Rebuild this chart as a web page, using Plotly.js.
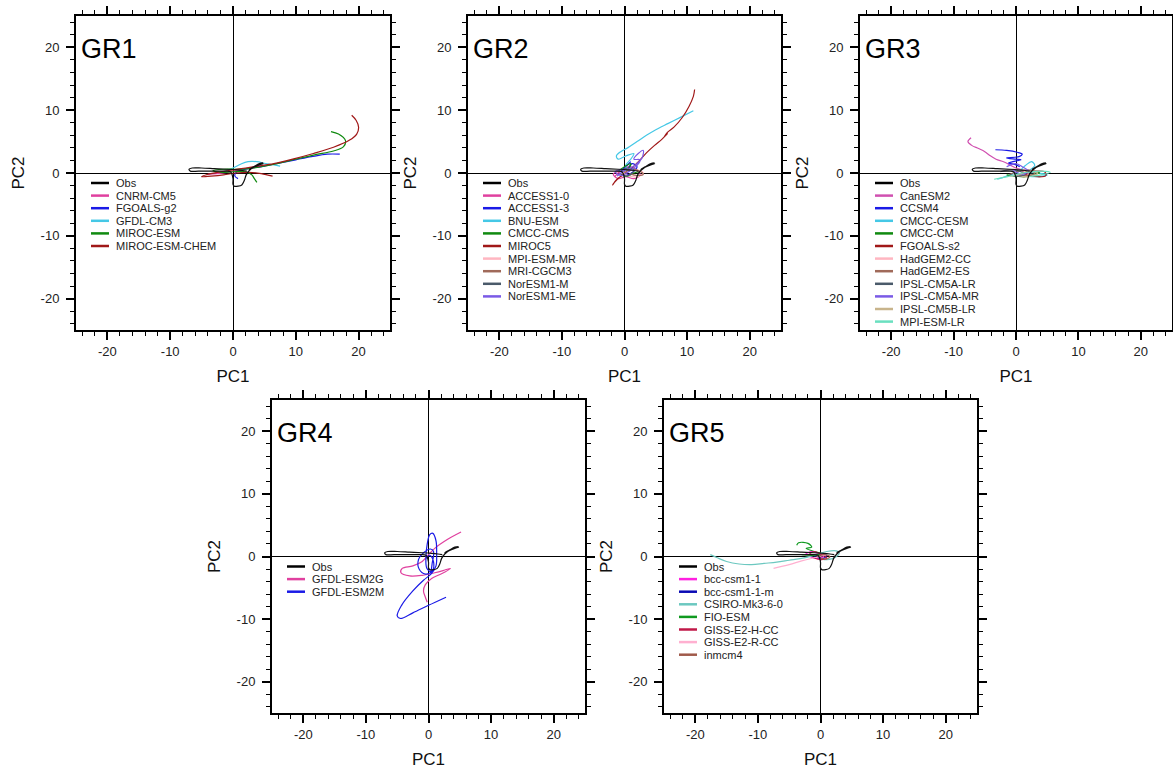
<!DOCTYPE html>
<html>
<head>
<meta charset="utf-8">
<script src="https://cdn.plot.ly/plotly-3.0.1.min.js"></script>
<style>html,body{margin:0;padding:0;background:#fff;}#chart{width:1173px;height:772px;}</style>
</head>
<body>
<div id="chart"></div>
<script>
// ---------------- DATA ----------------
const panelLabels = ["GR1", "GR2", "GR3", "GR4", "GR5"];
const tickVals = [-20, -10, 0, 10, 20];
const tickText = ["-20", "-10", "0", "10", "20"];

// Observations (same in every panel)
const obsPC1 = [4.8, 4.2, 3.3, 2.6, 3.2, 4.2, 4.8, 3.8, 2.6, 2.1, 1.8, 1.4, 0.8, 0.2, 0.0, 0.0, -0.4, -1.5, -3.5, -5.5, -6.8, -7.0, -6.5, -5.0, -3.0, -1.0, 0.5, 1.5, 2.2];
const obsPC2 = [1.6, 1.5, 1.0, 0.6, 0.9, 1.3, 1.5, 1.2, 0.4, -0.3, -1.2, -1.9, -2.1, -2.1, -1.8, -0.9, 0.2, 0.3, 0.3, 0.3, 0.3, 0.6, 0.8, 0.8, 0.7, 0.6, 0.5, 0.4, 0.3];

// GR1
const gr1Names = ["CNRM-CM5", "FGOALS-g2", "GFDL-CM3", "MIROC-ESM", "MIROC-ESM-CHEM"];
const gr1_CNRM_CM5_pc1 = [-4.0, -2.5, -1.0, 0.5, 2.0, 3.5, 5.0];
const gr1_CNRM_CM5_pc2 = [-0.2, -0.1, 0.1, 0.4, 0.7, 0.9, 1.1];
const gr1_FGOALS_g2_pc1 = [17.0, 15.0, 12.5, 10.0, 7.5, 5.0, 3.0, 1.5, 0.5, 0.3, 0.8];
const gr1_FGOALS_g2_pc2 = [3.0, 3.0, 2.6, 2.1, 1.6, 1.1, 0.8, 0.5, 0.1, -0.5, -0.9];
const gr1_GFDL_CM3_pc1 = [-1.5, 0.0, 1.2, 2.4, 3.8, 5.2, 6.5, 7.5];
const gr1_GFDL_CM3_pc2 = [0.2, 0.8, 1.4, 1.8, 1.8, 1.5, 1.3, 1.1];
const gr1_MIROC_ESM_pc1 = [15.6, 16.8, 17.9, 17.6, 16.0, 13.0, 10.0, 7.0, 4.5, 2.5, 0.5, -1.5, -3.2, -2.0, 0.0, 2.0, 3.0, 3.4, 3.8];
const gr1_MIROC_ESM_pc2 = [6.6, 6.2, 5.2, 4.2, 3.5, 2.9, 2.2, 1.5, 1.0, 0.7, 0.6, 0.6, 0.4, 0.1, 0.2, 0.2, -0.3, -0.9, -1.5];
const gr1_MIROC_ESM_CHEM_pc1 = [6.3, 4.5, 2.5, 0.5, -1.5, -3.5, -5.0, -4.0, -2.0, 0.0, 2.0, 4.0, 6.5, 9.5, 12.8, 16.0, 18.5, 19.7, 20.0, 19.6, 18.9];
const gr1_MIROC_ESM_CHEM_pc2 = [-0.5, -0.1, 0.1, 0.0, -0.3, -0.5, -0.6, -0.2, 0.2, 0.5, 0.8, 1.1, 1.5, 2.2, 3.1, 4.1, 5.2, 6.2, 7.3, 8.4, 9.2];

// GR2
const gr2Names = ["ACCESS1-0", "ACCESS1-3", "BNU-ESM", "CMCC-CMS", "MIROC5", "MPI-ESM-MR", "MRI-CGCM3", "NorESM1-M", "NorESM1-ME"];
const gr2_ACCESS1_0_pc1 = [-1.5, -0.5, 0.8, 1.8, 2.5, 1.5, 0.2, -1.0, -1.8, -0.8, 0.5];
const gr2_ACCESS1_0_pc2 = [-0.5, 0.4, 1.0, 0.6, -0.3, -0.9, -0.6, -0.9, -0.2, 0.3, 0.0];
const gr2_ACCESS1_3_pc1 = [0.5, 1.2, 2.0, 1.4, 0.3, -0.5, 0.2, 1.0];
const gr2_ACCESS1_3_pc2 = [0.5, 1.5, 1.0, 0.2, -0.3, 0.3, 1.0, 1.8];
const gr2_BNU_ESM_pc1 = [11.0, 9.0, 7.0, 5.0, 3.5, 2.0, 0.5, -0.6, -1.3, -1.0, 0.2, 1.5, 1.0, 0.2, 0.5];
const gr2_BNU_ESM_pc2 = [9.9, 8.9, 7.9, 6.9, 6.0, 5.0, 4.0, 3.4, 2.7, 2.2, 2.7, 3.1, 2.2, 1.2, 0.4];
const gr2_CMCC_CMS_pc1 = [-1.0, 0.0, 1.0, 0.5, -0.3, 0.5, 1.5, 2.5];
const gr2_CMCC_CMS_pc2 = [0.3, 1.0, 1.5, 0.5, -0.2, -0.5, 0.0, 0.2];
const gr2_MIROC5_pc1 = [11.2, 11.0, 10.3, 9.2, 7.9, 6.9, 6.3, 6.9, 6.0, 4.8, 3.5, 2.3, 1.3, 0.3, -0.8, -1.6, -1.9, -1.2, 0.0];
const gr2_MIROC5_pc2 = [13.3, 12.2, 10.6, 8.8, 7.3, 6.5, 5.7, 6.3, 5.4, 4.4, 3.2, 1.9, 0.9, 0.2, -0.7, -1.5, -1.9, -1.0, -0.2];
const gr2_MPI_ESM_MR_pc1 = [-1.0, 0.5, 2.0, 3.0, 2.0, 0.5, -0.5];
const gr2_MPI_ESM_MR_pc2 = [-0.3, 0.3, 0.5, 0.0, -0.6, -0.4, 0.2];
const gr2_MRI_CGCM3_pc1 = [0.0, 1.0, 2.2, 3.0, 2.0, 0.8];
const gr2_MRI_CGCM3_pc2 = [0.0, 0.6, 0.4, -0.2, -0.4, -0.1];
const gr2_NorESM1_M_pc1 = [-0.5, 0.5, 1.5, 1.0, 0.0, -0.8];
const gr2_NorESM1_M_pc2 = [0.2, 0.8, 0.5, -0.2, -0.5, 0.0];
const gr2_NorESM1_ME_pc1 = [-1.2, -0.3, 1.0, 2.0, 2.8, 3.0, 2.2, 1.5, 2.5, 2.0, 0.8, -0.5, -1.5, -0.5];
const gr2_NorESM1_ME_pc2 = [-0.5, 0.2, 0.8, 1.5, 2.4, 3.6, 3.1, 2.2, 2.1, 1.2, 0.3, -0.4, 0.2, 0.6];

// GR3
const gr3Names = ["CanESM2", "CCSM4", "CMCC-CESM", "CMCC-CM", "FGOALS-s2", "HadGEM2-CC", "HadGEM2-ES", "IPSL-CM5A-LR", "IPSL-CM5A-MR", "IPSL-CM5B-LR", "MPI-ESM-LR"];
const gr3_CanESM2_pc1 = [-7.2, -7.7, -7.1, -6.0, -5.0, -4.2, -3.2, -2.0, -1.0, 0.0, 1.0];
const gr3_CanESM2_pc2 = [5.6, 5.0, 4.4, 3.9, 3.4, 2.8, 2.2, 1.8, 1.3, 0.8, 0.5];
const gr3_CCSM4_pc1 = [-3.3, -1.5, 0.2, 1.0, 0.5, -1.5, 0.0, 0.8, -0.5, -1.2, 0.0, 0.6];
const gr3_CCSM4_pc2 = [3.7, 3.6, 3.3, 3.0, 2.6, 2.4, 2.2, 2.1, 1.8, 1.6, 1.3, 1.0];
const gr3_CMCC_CESM_pc1 = [-3.0, -1.5, 0.5, 1.5, 2.5, 3.0, 2.0, 3.5, 5.0, 3.0, 1.0];
const gr3_CMCC_CESM_pc2 = [-1.0, -0.5, 0.3, 1.2, 1.8, 1.2, 0.2, 0.0, -0.3, -0.6, -0.3];
const gr3_CMCC_CM_pc1 = [-1.5, 0.0, 1.5, 3.0, 3.8, 2.5, 1.0, 0.0];
const gr3_CMCC_CM_pc2 = [-0.3, -0.5, -0.6, -0.2, 0.0, 0.3, 0.0, -0.5];
const gr3_FGOALS_s2_pc1 = [1.0, 3.0, 4.6, 4.8, 3.5, 2.0, 1.0];
const gr3_FGOALS_s2_pc2 = [0.2, 0.3, 0.2, -0.4, -0.6, -0.3, 0.0];
const gr3_HadGEM2_CC_pc1 = [-2.0, -0.5, 1.0, 2.0, 1.0, -0.5];
const gr3_HadGEM2_CC_pc2 = [0.3, 0.6, 0.4, -0.2, -0.5, -0.2];
const gr3_HadGEM2_ES_pc1 = [-1.0, 0.5, 2.0, 3.0, 2.0, 0.5];
const gr3_HadGEM2_ES_pc2 = [-0.2, 0.3, 0.5, 0.0, -0.4, -0.3];
const gr3_IPSL_CM5A_LR_pc1 = [-2.5, -1.0, 0.5, 1.5, 0.5, -1.0];
const gr3_IPSL_CM5A_LR_pc2 = [0.2, 0.5, 0.3, -0.2, -0.5, -0.3];
const gr3_IPSL_CM5A_MR_pc1 = [-1.5, 0.0, 1.0, 2.0, 1.0, -0.5];
const gr3_IPSL_CM5A_MR_pc2 = [1.0, 1.5, 1.0, 0.3, -0.2, 0.4];
const gr3_IPSL_CM5B_LR_pc1 = [-1.0, 0.5, 2.0, 3.5, 2.5, 1.0];
const gr3_IPSL_CM5B_LR_pc2 = [-0.5, -0.2, 0.2, 0.0, -0.5, -0.6];
const gr3_MPI_ESM_LR_pc1 = [-3.5, -2.0, -0.5, 1.0, 2.5, 4.0, 5.5, 4.0, 2.0];
const gr3_MPI_ESM_LR_pc2 = [-1.0, -0.7, -0.4, 0.0, 0.2, 0.3, 0.1, -0.3, -0.6];

// GR4
const gr4Names = ["GFDL-ESM2G", "GFDL-ESM2M"];
const gr4_GFDL_ESM2G_pc1 = [5.2, 3.0, 1.0, 0.0, -1.0, -2.5, -4.2, -4.4, -3.0, -1.0, 1.0, 2.5, 3.5, 2.0, 0.5, -0.5, -0.8, -0.5, -0.2];
const gr4_GFDL_ESM2G_pc2 = [3.9, 2.7, 1.3, 0.3, -0.8, -1.5, -1.9, -2.6, -3.1, -3.0, -2.6, -2.2, -1.9, -2.8, -3.5, -4.5, -5.5, -6.5, -7.3];
const gr4_GFDL_ESM2M_pc1 = [2.8, 0.0, -2.5, -4.5, -5.0, -4.3, -2.5, -0.8, 0.5, 1.2, 1.3, 1.2, 0.7, 0.2, -0.2, -0.4, -0.3, 0.3, 0.6, 0.8, 0.3, -0.8, -1.6, -1.5, -0.5, 0.6, 0.8, 0.2, -0.5];
const gr4_GFDL_ESM2M_pc2 = [-6.5, -7.8, -9.0, -9.9, -9.5, -7.8, -5.5, -3.8, -2.7, -1.5, 0.5, 2.5, 3.7, 3.5, 2.0, 0.0, -1.8, -2.4, -1.0, 0.8, 1.2, 0.6, -0.5, -2.0, -2.8, -2.3, -0.8, 0.2, -0.5];

// GR5
const gr5Names = ["bcc-csm1-1", "bcc-csm1-1-m", "CSIRO-Mk3-6-0", "FIO-ESM", "GISS-E2-H-CC", "GISS-E2-R-CC", "inmcm4"];
const gr5_bcc_csm1_1_pc1 = [-2.5, -1.5, -0.5, 0.5, -0.5, -1.8];
const gr5_bcc_csm1_1_pc2 = [0.3, 0.8, 0.5, 0.0, -0.3, 0.0];
const gr5_bcc_csm1_1_m_pc1 = [-1.0, 0.0, 1.0, 0.5, -0.5];
const gr5_bcc_csm1_1_m_pc2 = [0.0, 0.4, 0.2, -0.3, -0.2];
const gr5_CSIRO_pc1 = [-17.6, -16.5, -15.0, -13.0, -11.0, -9.0, -7.0, -5.0, -3.0, -1.0, 1.0, 2.5, 3.0, 2.0, 0.5];
const gr5_CSIRO_pc2 = [0.3, -0.2, -0.8, -1.2, -1.3, -1.1, -0.9, -0.6, -0.3, 0.2, 0.8, 0.9, 0.5, -0.3, -0.5];
const gr5_FIO_ESM_pc1 = [-3.8, -3.5, -2.0, -1.4, -2.3, -1.0, 0.0, -1.0, -3.0];
const gr5_FIO_ESM_pc2 = [1.8, 2.2, 2.1, 1.5, 1.3, 0.8, 0.5, 0.2, 0.3];
const gr5_GISS_H_pc1 = [-2.0, -1.0, 0.0, 1.0, 0.2, -1.2];
const gr5_GISS_H_pc2 = [0.2, 0.8, 0.4, -0.2, -0.5, -0.2];
const gr5_GISS_R_pc1 = [-7.5, -5.0, -3.0, -1.0, 1.0];
const gr5_GISS_R_pc2 = [-1.9, -1.3, -0.7, -0.2, 0.3];
const gr5_inmcm4_pc1 = [-0.5, 0.5, 1.5, 1.0, 0.0];
const gr5_inmcm4_pc2 = [0.0, 0.3, 0.0, -0.4, -0.3];

// ---------------- STYLE ----------------
const gr1Colors = ["#e0409f", "#1a1ae6", "#45c8e6", "#108a10", "#a01818"];
const gr2Colors = ["#e0409f", "#1a1ae6", "#45c8e6", "#108a10", "#a01818", "#ffb6c1", "#a06a5a", "#4a5a6a", "#7a5ae6"];
const gr3Colors = ["#d050b0", "#1a1ae6", "#45c8e6", "#108a10", "#a01818", "#ffb6c1", "#a06a5a", "#4a5a6a", "#7a5ae6", "#c8b48c", "#6ae0c0"];
const gr4Colors = ["#e0409f", "#1a1ae6"];
const gr5Colors = ["#ff20e0", "#0a0ab4", "#6cc8c0", "#109a20", "#c01848", "#ffb0d0", "#a05a4a"];

const W = 1173, H = 772;
// plot boxes in pixels: [left, top, right, bottom]
const boxes = [[76, 16, 390, 330], [468, 16, 781, 330], [860, 16, 1172, 330], [272, 400, 585, 713], [664, 400, 977, 713]];
const FONT = "Liberation Sans, Arial, Helvetica, sans-serif";

const panels = [
  {names: gr1Names, colors: gr1Colors, pc1: [gr1_CNRM_CM5_pc1, gr1_FGOALS_g2_pc1, gr1_GFDL_CM3_pc1, gr1_MIROC_ESM_pc1, gr1_MIROC_ESM_CHEM_pc1],
   pc2: [gr1_CNRM_CM5_pc2, gr1_FGOALS_g2_pc2, gr1_GFDL_CM3_pc2, gr1_MIROC_ESM_pc2, gr1_MIROC_ESM_CHEM_pc2]},
  {names: gr2Names, colors: gr2Colors, pc1: [gr2_ACCESS1_0_pc1, gr2_ACCESS1_3_pc1, gr2_BNU_ESM_pc1, gr2_CMCC_CMS_pc1, gr2_MIROC5_pc1, gr2_MPI_ESM_MR_pc1, gr2_MRI_CGCM3_pc1, gr2_NorESM1_M_pc1, gr2_NorESM1_ME_pc1],
   pc2: [gr2_ACCESS1_0_pc2, gr2_ACCESS1_3_pc2, gr2_BNU_ESM_pc2, gr2_CMCC_CMS_pc2, gr2_MIROC5_pc2, gr2_MPI_ESM_MR_pc2, gr2_MRI_CGCM3_pc2, gr2_NorESM1_M_pc2, gr2_NorESM1_ME_pc2]},
  {names: gr3Names, colors: gr3Colors, pc1: [gr3_CanESM2_pc1, gr3_CCSM4_pc1, gr3_CMCC_CESM_pc1, gr3_CMCC_CM_pc1, gr3_FGOALS_s2_pc1, gr3_HadGEM2_CC_pc1, gr3_HadGEM2_ES_pc1, gr3_IPSL_CM5A_LR_pc1, gr3_IPSL_CM5A_MR_pc1, gr3_IPSL_CM5B_LR_pc1, gr3_MPI_ESM_LR_pc1],
   pc2: [gr3_CanESM2_pc2, gr3_CCSM4_pc2, gr3_CMCC_CESM_pc2, gr3_CMCC_CM_pc2, gr3_FGOALS_s2_pc2, gr3_HadGEM2_CC_pc2, gr3_HadGEM2_ES_pc2, gr3_IPSL_CM5A_LR_pc2, gr3_IPSL_CM5A_MR_pc2, gr3_IPSL_CM5B_LR_pc2, gr3_MPI_ESM_LR_pc2]},
  {names: gr4Names, colors: gr4Colors, pc1: [gr4_GFDL_ESM2G_pc1, gr4_GFDL_ESM2M_pc1], pc2: [gr4_GFDL_ESM2G_pc2, gr4_GFDL_ESM2M_pc2]},
  {names: gr5Names, colors: gr5Colors, pc1: [gr5_bcc_csm1_1_pc1, gr5_bcc_csm1_1_m_pc1, gr5_CSIRO_pc1, gr5_FIO_ESM_pc1, gr5_GISS_H_pc1, gr5_GISS_R_pc1, gr5_inmcm4_pc1],
   pc2: [gr5_bcc_csm1_1_pc2, gr5_bcc_csm1_1_m_pc2, gr5_CSIRO_pc2, gr5_FIO_ESM_pc2, gr5_GISS_H_pc2, gr5_GISS_R_pc2, gr5_inmcm4_pc2]}
];

const traces = [];
const layout = {
  width: W, height: H, autosize: false,
  margin: {l: 0, r: 0, t: 0, b: 0},
  paper_bgcolor: "#fff", plot_bgcolor: "#fff",
  showlegend: false,
  font: {family: FONT, color: "#000"},
  shapes: [], annotations: []
};

function px2x(p) { return p / W; }
function px2y(p) { return 1 - p / H; }

function axisCfg(dom, anchor, isX) {
  return {
    domain: dom, anchor: anchor, range: [-25, 25], autorange: false, fixedrange: true,
    tickmode: "array", tickvals: tickVals, ticktext: tickText,
    ticks: "outside", ticklen: 8, tickwidth: 2, tickcolor: "#000",
    ticklabelstandoff: isX ? 0 : 4,
    minor: {tickmode: "linear", tick0: 0, dtick: 2, ticks: "outside", ticklen: 4, tickwidth: 1, tickcolor: "#000", showgrid: false},
    showline: true, linewidth: 2, linecolor: "#000", mirror: "allticks",
    zeroline: true, zerolinecolor: "#000", zerolinewidth: 1, showgrid: false,
    tickfont: {family: FONT, size: 13, color: "#222"},
    title: {text: isX ? "PC1" : "PC2", font: {family: FONT, size: 17, color: "#111"}, standoff: isX ? 13 : 12}
  };
}

panels.forEach((p, i) => {
  const b = boxes[i];
  const xs = i === 0 ? "" : String(i + 1);
  const xa = "x" + xs, ya = "y" + xs;
  layout["xaxis" + xs] = axisCfg([px2x(b[0]), px2x(b[2])], ya, true);
  layout["yaxis" + xs] = axisCfg([px2y(b[3]), px2y(b[1])], xa, false);

  // model curves
  p.names.forEach((n, k) => {
    traces.push({type: "scatter", mode: "lines", name: n, x: p.pc1[k], y: p.pc2[k], xaxis: xa, yaxis: ya,
      line: {color: p.colors[k], width: 1.2, shape: "spline", smoothing: 1}, hoverinfo: "skip"});
  });
  // observation
  traces.push({type: "scatter", mode: "lines", name: "Obs", x: obsPC1, y: obsPC2, xaxis: xa, yaxis: ya,
    line: {color: "#111", width: 1.2, shape: "spline", smoothing: 1}, hoverinfo: "skip"});

  // panel label
  layout.annotations.push({text: panelLabels[i], xref: "paper", yref: "paper", x: px2x(b[0] + 3), y: px2y(b[1] + 33),
    xanchor: "left", yanchor: "middle", showarrow: false, font: {family: FONT, size: 27, color: "#000"}});

  // legend (NCL style, inside the plot)
  const zeroY = (b[1] + b[3]) / 2;
  const legNames = ["Obs"].concat(p.names);
  const legColors = ["#000"].concat(p.colors);
  legNames.forEach((n, k) => {
    const yy = zeroY + 10 + k * 12.6;
    layout.shapes.push({type: "line", xref: "paper", yref: "paper", x0: px2x(b[0] + 15), x1: px2x(b[0] + 33),
      y0: px2y(yy), y1: px2y(yy), line: {color: legColors[k], width: 2.5}});
    layout.annotations.push({text: n, xref: "paper", yref: "paper", x: px2x(b[0] + 38), y: px2y(yy),
      xanchor: "left", yanchor: "middle", showarrow: false, font: {family: FONT, size: 11, color: "#222"}});
  });
});

Plotly.newPlot("chart", traces, layout, {staticPlot: true, displayModeBar: false});
</script>
</body>
</html>
